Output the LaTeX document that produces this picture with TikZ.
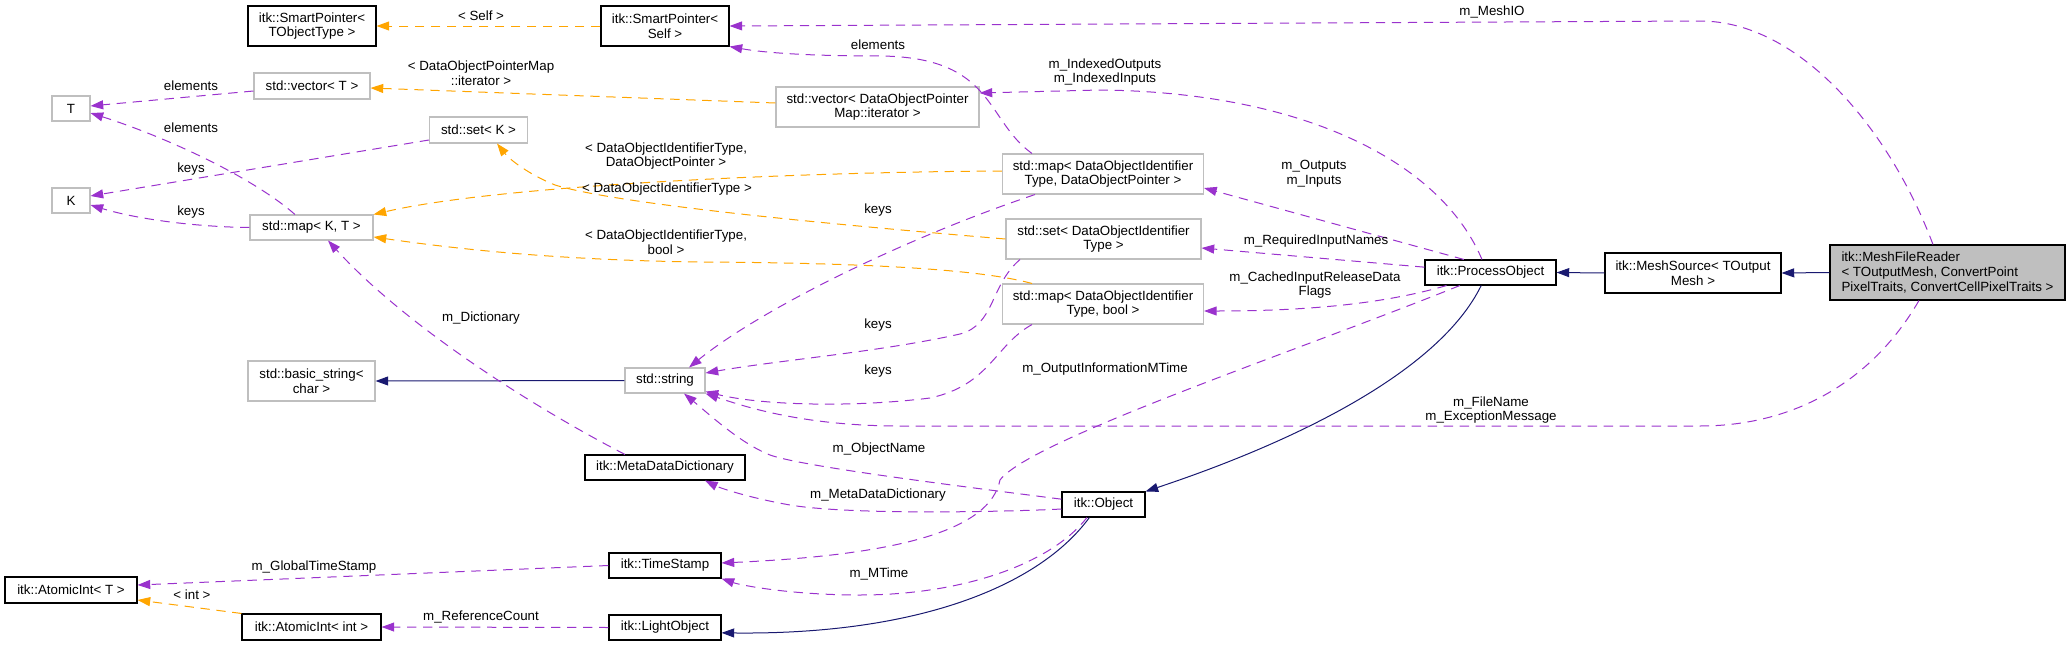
\documentclass[tikz,border=0pt]{standalone}
\usepackage{fontspec}
\setmainfont{Liberation Sans}
\usetikzlibrary{arrows.meta}
\definecolor{member}{HTML}{9A32CD}
\definecolor{tmpl}{HTML}{FFA500}
\definecolor{inherit}{HTML}{191970}
\definecolor{extgray}{HTML}{BFBFBF}

\begin{document}
\begin{tikzpicture}[x=0.75pt, y=-0.75pt, font=\fontsize{10}{11}\selectfont,
  >={Triangle[length=9.5pt,width=6.75pt]},
  cls/.style={draw=black, line width=0.8pt, fill=white, inner sep=0pt, align=center, minimum height=18.75pt},
  ext/.style={cls, draw=extgray},
  lbl/.style={inner sep=0pt, align=center},
  memberedge/.style={->, draw=member, line width=0.75pt, dash pattern=on 7pt off 5pt},
  tmpledge/.style={memberedge, draw=tmpl},
  baseedge/.style={->, draw=inherit, line width=0.75pt}]
  \useasboundingbox (0,0) rectangle (2071,646);

  % classes
  \node[cls, minimum width=96pt, minimum height=30pt] (spTObj) at (312,26) {itk::SmartPointer<\\TObjectType >};
  \node[ext, minimum width=87pt, minimum height=19.5pt] (vecT) at (312,86) {std::vector< T >};
  \node[ext, minimum width=28.5pt] (nT) at (71,108.5) {T};
  \node[ext, minimum width=28.5pt] (nK) at (71,200.5) {K};
  \node[ext, minimum width=73.5pt, minimum height=19.5pt] (setK) at (478.5,130) {std::set< K >};
  \node[ext, minimum width=92.25pt] (mapKT) at (311.5,227.5) {std::map< K, T >};
  \node[cls, minimum width=96pt, minimum height=30pt] (spSelf) at (665,26) {itk::SmartPointer<\\Self >};
  \node[ext, minimum width=152.25pt, minimum height=30pt] (vecDOPM) at (877.5,107) {std::vector< DataObjectPointer\\Map::iterator >};
  \node[ext, minimum width=150.75pt, minimum height=30pt] (mapDOP) at (1103,174) {std::map< DataObjectIdentifier\\Type, DataObjectPointer >};
  \node[ext, minimum width=146.25pt, minimum height=30pt] (setDOIT) at (1103.5,239) {std::set< DataObjectIdentifier\\Type >};
  \node[ext, minimum width=150.75pt, minimum height=30pt] (mapBool) at (1103,304) {std::map< DataObjectIdentifier\\Type, bool >};
  \node[cls, minimum width=98.25pt] (procObj) at (1490.5,272.5) {itk::ProcessObject};
  \node[cls, minimum width=132pt, minimum height=30pt] (meshSrc) at (1693,273) {itk::MeshSource< TOutput\\Mesh >};
  \node[cls, fill=extgray, align=left, minimum width=176.25pt, minimum height=41.25pt] (reader) at (1947.5,272.5)
    {itk::MeshFileReader\\< TOutputMesh, ConvertPoint\\PixelTraits, ConvertCellPixelTraits >};
  \node[ext, minimum width=95.25pt, minimum height=30pt] (basicStr) at (311.5,381) {std::basic\_string<\\char >};
  \node[ext, minimum width=60pt] (str) at (665,380.5) {std::string};
  \node[cls, minimum width=120pt] (metaDict) at (665,467.5) {itk::MetaDataDictionary};
  \node[cls, minimum width=62.25pt] (obj) at (1103.5,504.5) {itk::Object};
  \node[cls, minimum width=84pt] (timeStamp) at (665,565.5) {itk::TimeStamp};
  \node[cls, minimum width=84pt] (lightObj) at (665,627.5) {itk::LightObject};
  \node[cls, minimum width=99pt, minimum height=19.5pt] (atomT) at (71,590) {itk::AtomicInt< T >};
  \node[cls, minimum width=104.25pt, minimum height=19.5pt] (atomInt) at (311.5,627) {itk::AtomicInt< int >};

  % inheritance
  \draw[baseedge] (reader.west) -- (meshSrc.east);
  \draw[baseedge] (meshSrc.west) -- (procObj.east);
  \draw[baseedge] ([xshift=-7pt]procObj.south) .. controls (1440,370) and (1300,440) .. (obj.north east);
  \draw[baseedge] ([xshift=-10.6pt]obj.south) .. controls (1040,585) and (920,635) .. ([yshift=-4pt]lightObj.east);
  \draw[baseedge] (str.west) -- (basicStr.east);

  % template instances
  \draw[tmpledge] (spSelf.west) -- (spTObj.east);
  \draw[tmpledge] ([yshift=3pt]vecDOPM.west) -- ([yshift=-1.5pt]vecT.east);
  \draw[tmpledge] ([yshift=2.25pt]mapDOP.west) .. controls (800,172) and (500,185) .. (mapKT.north east);
  \draw[tmpledge] (setDOIT.west) .. controls (850,226) and (620,205) .. (555,185)
    .. controls (530,175) and (510,160) .. ([xshift=13.9pt]setK.south);
  \draw[tmpledge] ([xshift=-53.25pt]mapBool.north) .. controls (990,272) and (900,263) .. (700,262)
    .. controls (550,260) and (450,248) .. ([yshift=-7.1pt]mapKT.east);
  \draw[tmpledge] (atomInt.north west) -- ([yshift=-7.5pt]atomT.east);

  % members
  \draw[memberedge] ([xshift=-10.9pt]reader.north) .. controls (1890,130) and (1800,21) .. (1700,21) -- (spSelf.east);
  \draw[memberedge] ([xshift=-21.4pt]reader.south) .. controls (1870,385) and (1790,426) .. (1700,426) -- (900,426)
    .. controls (800,426) and (740,405) .. (str.south east);
  \draw[memberedge] ([xshift=-53.25pt]mapDOP.north) .. controls (985,120) and (995,57) .. (880,56)
    .. controls (800,56) and (760,52) .. (spSelf.south east);
  \draw[memberedge] ([xshift=-6.4pt]procObj.north) .. controls (1440,160) and (1300,92) .. (1100,90) -- ([yshift=10.5pt]vecDOPM.east);
  \draw[memberedge] ([xshift=-20pt]procObj.north) -- ([yshift=-10.5pt]mapDOP.east);
  \draw[memberedge] ([yshift=4pt]procObj.west) -- ([yshift=-6.75pt]setDOIT.east);
  \draw[memberedge] ([xshift=-33pt]procObj.south) .. controls (1380,305) and (1300,311) .. ([yshift=-5.25pt]mapBool.east);
  \draw[memberedge] ([xshift=-23pt]procObj.south) .. controls (1300,350) and (1030,440) .. (1000,480)
    .. controls (990,530) and (900,555) .. ([yshift=1.9pt]timeStamp.east);
  \draw[memberedge] ([yshift=4pt]obj.west) .. controls (950,485) and (800,466) .. (770,455)
    .. controls (740,443) and (710,415) .. ([xshift=14.25pt]str.south);
  \draw[memberedge] ([yshift=-3.4pt]obj.west) .. controls (1000,512) and (850,515) .. (790,505)
    .. controls (750,498) and (720,488) .. ([xshift=30pt]metaDict.south);
  \draw[memberedge] ([xshift=-12.4pt]obj.south) .. controls (1050,565) and (960,595) .. (860,595)
    .. controls (790,595) and (740,585) .. (timeStamp.south east);
  \draw[memberedge] (lightObj.west) -- (atomInt.east);
  \draw[memberedge] (timeStamp.west) -- ([yshift=3.75pt]atomT.east);
  \draw[memberedge] ([xshift=-30pt]metaDict.north) .. controls (520,400) and (400,320) .. ([xshift=12.4pt]mapKT.south);
  \draw[memberedge] ([xshift=-12.4pt]mapKT.north) .. controls (250,175) and (160,135) .. ([yshift=-3.4pt]nT.east);
  \draw[memberedge] ([yshift=-3.75pt]vecT.west) -- ([yshift=1.9pt]nT.east);
  \draw[memberedge] ([yshift=-7.5pt]setK.west) -- ([yshift=3.4pt]nK.east);
  \draw[memberedge] (mapKT.west) .. controls (200,227) and (140,220) .. ([yshift=-3.4pt]nK.east);
  \draw[memberedge] ([xshift=-51pt]mapDOP.south) .. controls (900,240) and (760,310) .. ([xshift=18pt]str.north);
  \draw[memberedge] ([xshift=-62.6pt]setDOIT.south) .. controls (990,285) and (995,325) .. (960,334)
    .. controls (880,352) and (780,360) .. ([yshift=5.6pt]str.east);
  \draw[memberedge] ([xshift=-53.25pt]mapBool.south) .. controls (995,345) and (990,385) .. (930,398)
    .. controls (850,408) and (760,405) .. ([yshift=1.5pt]str.south east);

  % labels
  \node[lbl] (lMeshIO) at (1492,12) {m\_MeshIO};
  \node[lbl] (lFile) at (1491,410) {m\_FileName\\m\_ExceptionMessage};
  \node[lbl] (lElemSp) at (878,45) {elements};
  \node[lbl] (lIdx) at (1105,72) {m\_IndexedOutputs\\m\_IndexedInputs};
  \node[lbl] (lOut) at (1314,174) {m\_Outputs\\m\_Inputs};
  \node[lbl] (lReq) at (1316,241) {m\_RequiredInputNames};
  \node[lbl] (lCached) at (1315,285) {m\_CachedInputReleaseData\\Flags};
  \node[lbl] (lOutInfo) at (1105,369) {m\_OutputInformationMTime};
  \node[lbl] (lObjName) at (879,449) {m\_ObjectName};
  \node[lbl] (lMeta) at (878,495) {m\_MetaDataDictionary};
  \node[lbl] (lMTime) at (879,574) {m\_MTime};
  \node[lbl] (lRef) at (481,617) {m\_ReferenceCount};
  \node[lbl] (lGlobal) at (314,567) {m\_GlobalTimeStamp};
  \node[lbl] (lDict) at (481,318) {m\_Dictionary};
  \node[lbl] (lElemMap) at (191,128) {elements};
  \node[lbl] (lElemVec) at (191,86) {elements};
  \node[lbl] (lKeysSet) at (191,169) {keys};
  \node[lbl] (lKeysMap) at (191,212) {keys};
  \node[lbl] (lKeysDOP) at (878,210) {keys};
  \node[lbl] (lKeysDOIT) at (878,325) {keys};
  \node[lbl] (lKeysBool) at (878,371) {keys};
  \node[lbl] (lSelf) at (481,16) {< Self >};
  \node[lbl] (lIter) at (481,73) {< DataObjectPointerMap\\::iterator >};
  \node[lbl] (lDOP) at (666,156) {< DataObjectIdentifierType,\\DataObjectPointer >};
  \node[lbl] (lDOIT) at (667,189) {< DataObjectIdentifierType >};
  \node[lbl] (lBool) at (666,242) {< DataObjectIdentifierType,\\bool >};
  \node[lbl] (lInt) at (192,595) {< int >};
\end{tikzpicture}
\end{document}
